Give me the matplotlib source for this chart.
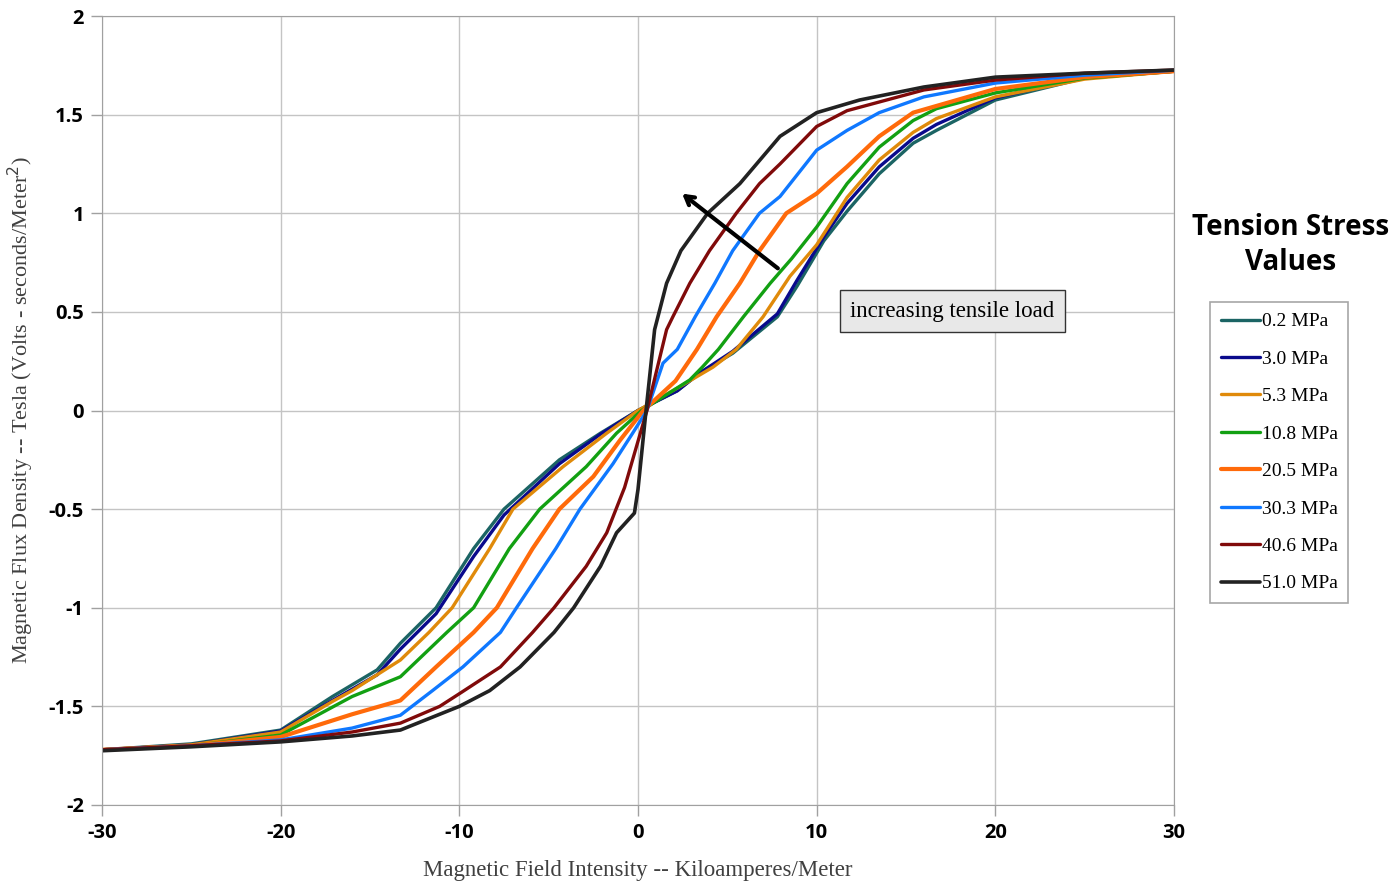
import matplotlib

matplotlib.use('Agg')
import matplotlib.pyplot as plt

# Значения: H (кА/м) и B (Тл) для каждой нагрузки
labels = ['0.2 MPa', '3.0 MPa', '5.3 MPa', '10.8 MPa',
          '20.5 MPa', '30.3 MPa', '40.6 MPa', '51.0 MPa']
colors = ['#1b6464', '#0a0a8c', '#e08a0a', '#12a012',
          '#ff6a0a', '#0f78ff', '#800a0a', '#222222']

h_02 = [-30, -25, -20, -17.1, -14.6, -13.3, -11.3, -9.2, -7.5, -4.4, -2.1, 0,
        2.2, 3.45, 5.3, 7.8, 8.9, 10.4, 11.7, 13.5, 15.4, 16.7, 20, 25, 30]
b_02 = [-1.72, -1.69, -1.62, -1.45, -1.315, -1.18, -1.0, -0.70, -0.5, -0.25, -0.115, 0.0,
        0.10, 0.19, 0.29, 0.475, 0.63, 0.86, 1.01, 1.20, 1.355, 1.42, 1.574, 1.685, 1.72]

h_30 = [-30, -25, -20, -17.1, -14.6, -13.3, -11.3, -9.2, -7.5, -4.4, -2.1, 0,
        2.2, 3.45, 5.3, 7.8, 8.9, 10.4, 11.7, 13.5, 15.4, 16.7, 20, 25, 30]
b_30 = [-1.72, -1.695, -1.625, -1.47, -1.34, -1.21, -1.03, -0.74, -0.53, -0.27, -0.12, 0.0,
        0.10, 0.19, 0.30, 0.49, 0.66, 0.88, 1.05, 1.235, 1.38, 1.45, 1.585, 1.69, 1.72]

h_53 = [-30, -25, -20, -17.1, -16, -13.3, -11.7, -10.4, -8.3, -7.0, -4.2, -1.75, 0,
        2.7, 4.2, 5.5, 7.0, 8.5, 10, 11.7, 13.5, 15.4, 16.7, 20, 25, 30]
b_53 = [-1.72, -1.695, -1.63, -1.475, -1.42, -1.265, -1.125, -1.0, -0.70, -0.5, -0.285, -0.115, 0.0,
        0.14, 0.22, 0.31, 0.475, 0.68, 0.84, 1.08, 1.27, 1.41, 1.48, 1.59, 1.68, 1.72]

h_108 = [-30, -25, -20, -16, -13.3, -10.7, -9.2, -7.2, -5.5, -2.9, -1.2, 0.2,
         2.9, 3.6, 4.5, 5.9, 7.4, 8.6, 10, 11.7, 13.5, 15.4, 16.7, 20, 25, 30]
b_108 = [-1.72, -1.70, -1.645, -1.45, -1.35, -1.125, -1.0, -0.70, -0.5, -0.285, -0.115, 0.0,
         0.155, 0.22, 0.31, 0.475, 0.645, 0.77, 0.93, 1.15, 1.335, 1.47, 1.53, 1.61, 1.685, 1.72]

h_205 = [-30, -25, -20, -16, -13.3, -11.3, -9.2, -7.9, -5.9, -4.4, -2.5, -1.0, 0.3,
         2.1, 3.3, 4.4, 5.7, 6.8, 8.3, 10, 11.7, 13.5, 15.4, 20, 25, 30]
b_205 = [-1.72, -1.70, -1.655, -1.54, -1.47, -1.30, -1.125, -1.0, -0.70, -0.5, -0.335, -0.15, 0.0,
         0.15, 0.31, 0.475, 0.645, 0.81, 1.0, 1.1, 1.236, 1.39, 1.51, 1.63, 1.69, 1.72]

h_303 = [-30, -25, -20, -16, -13.3, -11.5, -9.8, -7.7, -6.8, -4.6, -3.25, -1.4, -0.3, 0.5,
         1.4, 2.2, 3.2, 4.3, 5.3, 6.8, 7.95, 10, 11.7, 13.5, 16, 20, 25, 30]
b_303 = [-1.72, -1.70, -1.67, -1.61, -1.545, -1.42, -1.30, -1.125, -1.0, -0.70, -0.5, -0.27, -0.115, 0.0,
         0.24, 0.31, 0.475, 0.645, 0.81, 1.0, 1.085, 1.32, 1.42, 1.51, 1.59, 1.66, 1.70, 1.725]

h_406 = [-30, -25, -20, -16, -13.3, -11.1, -9.9, -7.7, -5.9, -4.7, -2.9, -1.75, -0.75, 0.5,
         1.6, 1.95, 2.9, 4.0, 5.5, 6.8, 7.95, 10, 11.7, 16, 20, 25, 30]
b_406 = [-1.72, -1.70, -1.675, -1.63, -1.585, -1.5, -1.43, -1.30, -1.125, -1.0, -0.79, -0.62, -0.39, 0.0,
         0.41, 0.475, 0.645, 0.81, 1.0, 1.15, 1.25, 1.44, 1.52, 1.625, 1.675, 1.71, 1.726]

h_510 = [-30, -25, -20, -16, -13.3, -10, -8.3, -6.6, -4.7, -3.6, -2.1, -1.2, -0.2, 0.0, 0.45,
         0.93, 1.6, 2.4, 3.9, 5.7, 7.95, 10, 12.4, 16, 20, 25, 30]
b_510 = [-1.725, -1.705, -1.68, -1.65, -1.62, -1.50, -1.42, -1.30, -1.125, -1.0, -0.79, -0.62, -0.52, -0.4, 0.0,
         0.41, 0.645, 0.81, 1.0, 1.15, 1.39, 1.51, 1.574, 1.64, 1.69, 1.71, 1.726]

h_data = [h_02, h_30, h_53, h_108, h_205, h_303, h_406, h_510]
b_data = [b_02, b_30, b_53, b_108, b_205, b_303, b_406, b_510]
widths = [2.4, 2.4, 2.4, 2.4, 3.0, 2.4, 2.4, 2.6]

x_ticks = [-30, -20, -10, 0, 10, 20, 30]
y_ticks = [-2, -1.5, -1, -0.5, 0, 0.5, 1, 1.5, 2]

fig = plt.figure(figsize=(13.96, 8.83), dpi=100)
ax = fig.add_axes([102 / 1396, 78 / 883, 1072 / 1396, 789 / 883])

for h, b, c, lab, lw in zip(h_data, b_data, colors, labels, widths):
    ax.plot(h, b, color=c, lw=lw, label=lab, solid_capstyle='round', solid_joinstyle='round')

ax.set_xlim(-30, 30)
ax.set_ylim(-2, 2)
ax.set_xticks(x_ticks)
ax.set_yticks(y_ticks)
ax.set_xticklabels([f'{v:g}' for v in x_ticks], fontfamily='Open Sans', fontweight='bold', fontsize=14.5)
ax.set_yticklabels([f'{v:g}' for v in y_ticks], fontfamily='Open Sans', fontweight='bold', fontsize=14.5)
ax.tick_params(axis='both', length=8, width=1, color='#a0a0a0', pad=5)
ax.grid(True, color='#c4c4c4', lw=1)
ax.set_axisbelow(True)
for s in ax.spines.values():
    s.set_color('#a0a0a0')

ax.set_xlabel('Magnetic Field Intensity -- Kiloamperes/Meter',
              fontfamily='Liberation Serif', fontsize=16.5, color='#404040', labelpad=12)
ax.set_ylabel('Magnetic Flux Density -- Tesla (Volts - seconds/Meter$^2$)',
              fontfamily='Liberation Serif', fontsize=16, color='#404040', labelpad=9)

# Стрелка и подпись
ax.annotate('', xy=(2.35, 1.108), xytext=(7.95, 0.712),
            arrowprops=dict(arrowstyle='->,head_length=0.6,head_width=0.35', color='black', lw=3))
ax.text(17.6, 0.504, 'increasing tensile load', ha='center', va='center',
        fontfamily='Liberation Serif', fontsize=16.5,
        bbox=dict(boxstyle='square,pad=0.45', facecolor='#e8e8e8', edgecolor='#333333', lw=1))

fig.text(1291 / 1396, 1 - 245 / 883, 'Tension Stress\nValues', ha='center', va='center',
         fontfamily='Open Sans', fontweight='bold', fontsize=20, linespacing=1.3)

leg = fig.legend(loc='upper left', bbox_to_anchor=(1210 / 1396, 1 - 302 / 883),
                 prop={'family': 'Liberation Serif', 'size': 14},
                 handlelength=2.0, handletextpad=0.1, labelspacing=1.02,
                 fancybox=False, borderpad=0.55, borderaxespad=0)
leg.get_frame().set_edgecolor('#909090')
leg.get_frame().set_linewidth(1.2)

plt.savefig('out.png', dpi=100)
plt.close()
